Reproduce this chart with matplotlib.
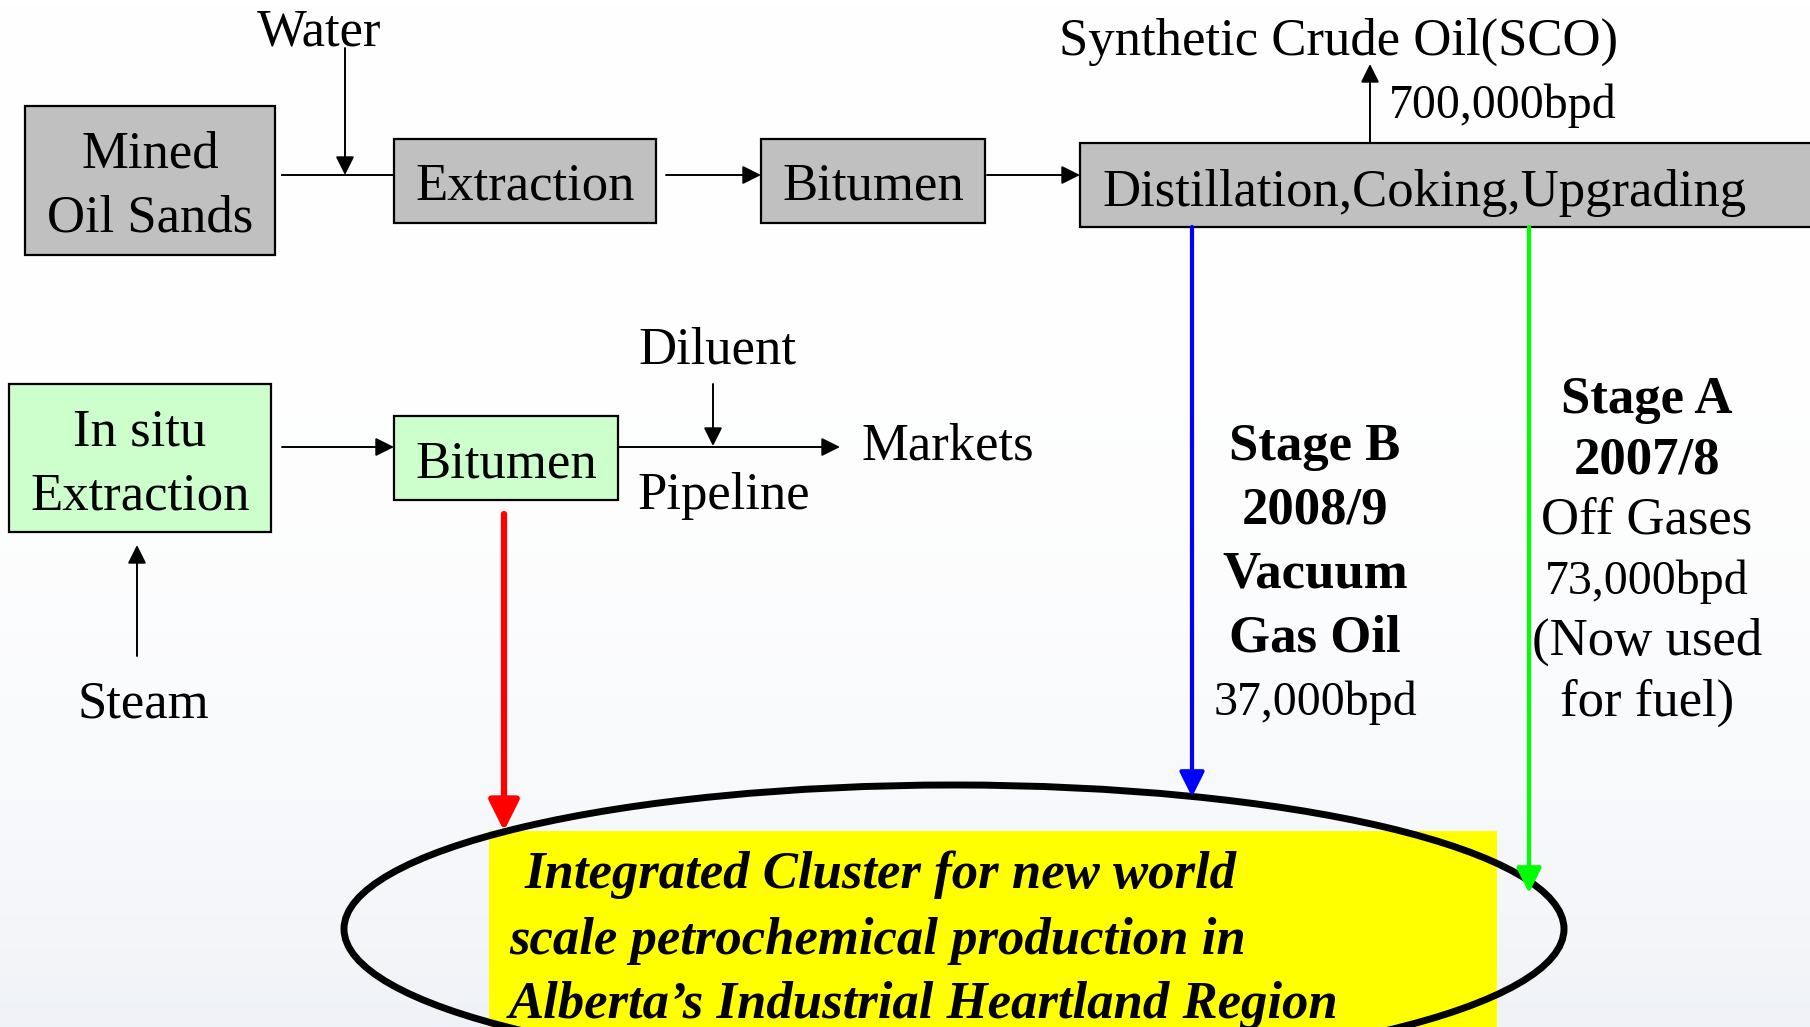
import numpy as np
import matplotlib.pyplot as plt
from matplotlib.patches import Rectangle, Ellipse

# labels of the diagram
mined_lines = ['Mined', 'Oil Sands']
top_steps = ['Extraction', 'Bitumen', 'Distillation,Coking,Upgrading']
insitu_lines = ['In situ', 'Extraction']
insitu_product = 'Bitumen'
inputs = ['Water', 'Diluent', 'Steam']
sco_label = 'Synthetic Crude Oil(SCO)'
sco_rate = '700,000bpd'
pipe_labels = ['Pipeline', 'Markets']
stage_b = ['Stage B', '2008/9', 'Vacuum', 'Gas Oil', '37,000bpd']
stage_b_bold = [True, True, True, True, False]
stage_a = ['Stage A', '2007/8', 'Off Gases', '73,000bpd', '(Now used', 'for fuel)']
stage_a_bold = [True, True, False, False, False, False]
cluster_lines = ['Integrated Cluster for new world',
                 'scale petrochemical production in',
                 'Alberta\u2019s Industrial Heartland Region']

W, H = 1810, 1027
FS = 38
FS_RATE = 34.5
SERIF = 'Liberation Serif'
GRAY = '#c0c0c0'
LGREEN = '#ccffcc'
DY = 6  # text baseline nudge


def box(ax, x0, y0, x1, y1, fc):
    ax.add_patch(Rectangle((x0, y0), x1 - x0, y1 - y0, fc=fc, ec='black', lw=1.6, zorder=3))


def arrow(ax, x0, y0, x1, y1, color='black', lw=1.4, ms=28):
    ax.annotate('', xy=(x1, y1), xytext=(x0, y0),
                arrowprops=dict(arrowstyle='-|>', color=color, lw=lw,
                                mutation_scale=ms, shrinkA=0, shrinkB=0),
                zorder=4)


def label(ax, x, y, s, size=FS, **kw):
    ax.text(x, y + DY, s, fontsize=size, family=SERIF, ha=kw.pop('ha', 'center'),
            va=kw.pop('va', 'center'), zorder=5, **kw)


fig = plt.figure(figsize=(W / 100, H / 100), dpi=100)
ax = fig.add_axes([0, 0, 1, 1])
ax.set_xlim(0, W)
ax.set_ylim(H, 0)
ax.axis('off')

# faint background tint towards the bottom
grad = np.linspace(0, 1, 256)[:, None] ** 3
bg = np.ones((256, 2, 3))
bg[:, :, 0] -= 0.06 * grad
bg[:, :, 1] -= 0.05 * grad
bg[:, :, 2] -= 0.03 * grad
ax.imshow(bg, extent=(0, W, H, 0), aspect='auto', zorder=0)

# --- mined route ---
box(ax, 25, 106, 275, 255, GRAY)
label(ax, 150, 149, mined_lines[0])
label(ax, 150, 213, mined_lines[1])
label(ax, 319, 27, inputs[0])
ax.plot([282, 394], [175, 175], color='black', lw=1.4, zorder=3)
arrow(ax, 345, 48, 345, 175)

box(ax, 394, 139, 656, 223, GRAY)
label(ax, 525, 181, top_steps[0])
arrow(ax, 666, 175, 761, 175)
box(ax, 761, 139, 985, 223, GRAY)
label(ax, 873, 181, top_steps[1])
arrow(ax, 987, 175, 1080, 175)
box(ax, 1080, 143, 1830, 227, GRAY)
label(ax, 1102, 187, top_steps[2], ha='left')

arrow(ax, 1370, 143, 1370, 64)
label(ax, 1339, 36, sco_label)
label(ax, 1389, 100, sco_rate, size=FS_RATE, ha='left')

# --- in situ route ---
box(ax, 9, 384, 271, 532, LGREEN)
label(ax, 140, 426, insitu_lines[0])
label(ax, 140, 490, insitu_lines[1])
arrow(ax, 282, 447, 394, 447)
box(ax, 394, 416, 618, 500, LGREEN)
label(ax, 506, 459, insitu_product)
arrow(ax, 618, 447, 840, 447)
arrow(ax, 713, 384, 713, 446)
label(ax, 717, 345, inputs[1])
label(ax, 637, 490, pipe_labels[0], ha='left')
label(ax, 861, 441, pipe_labels[1], ha='left')
arrow(ax, 137, 656, 137, 545)
label(ax, 143, 699, inputs[2])

# --- cluster ---
ax.add_patch(Rectangle((489, 831), 1008, 200, fc='#ffff00', ec='none', zorder=2))
ax.add_patch(Ellipse((954, 929), 1220, 288, fc='none', ec='black', lw=5, zorder=3))
for s, x, y in zip(cluster_lines, [525, 509, 509], [869, 935, 999]):
    ax.text(x, y + DY, s, fontsize=FS, family=SERIF, weight='bold', style='italic',
            ha='left', va='center', zorder=5)

# colored feeds
arrow(ax, 504, 514, 504, 831, color='#ff0000', lw=4.5, ms=46)
arrow(ax, 1192, 227, 1192, 797, color='#0000ff', lw=3, ms=38)
arrow(ax, 1529, 227, 1529, 893, color='#00ff00', lw=3, ms=38)

for i, (s, b) in enumerate(zip(stage_b, stage_b_bold)):
    label(ax, 1315, 441 + 64 * i, s, size=FS if i < 4 else FS_RATE,
          weight='bold' if b else 'normal')
for i, (s, b) in enumerate(zip(stage_a, stage_a_bold)):
    size = FS_RATE if s.endswith('bpd') else FS
    label(ax, 1647, 394 + 60.5 * i, s, size=size, weight='bold' if b else 'normal')

fig.savefig('out.png', dpi=100)
